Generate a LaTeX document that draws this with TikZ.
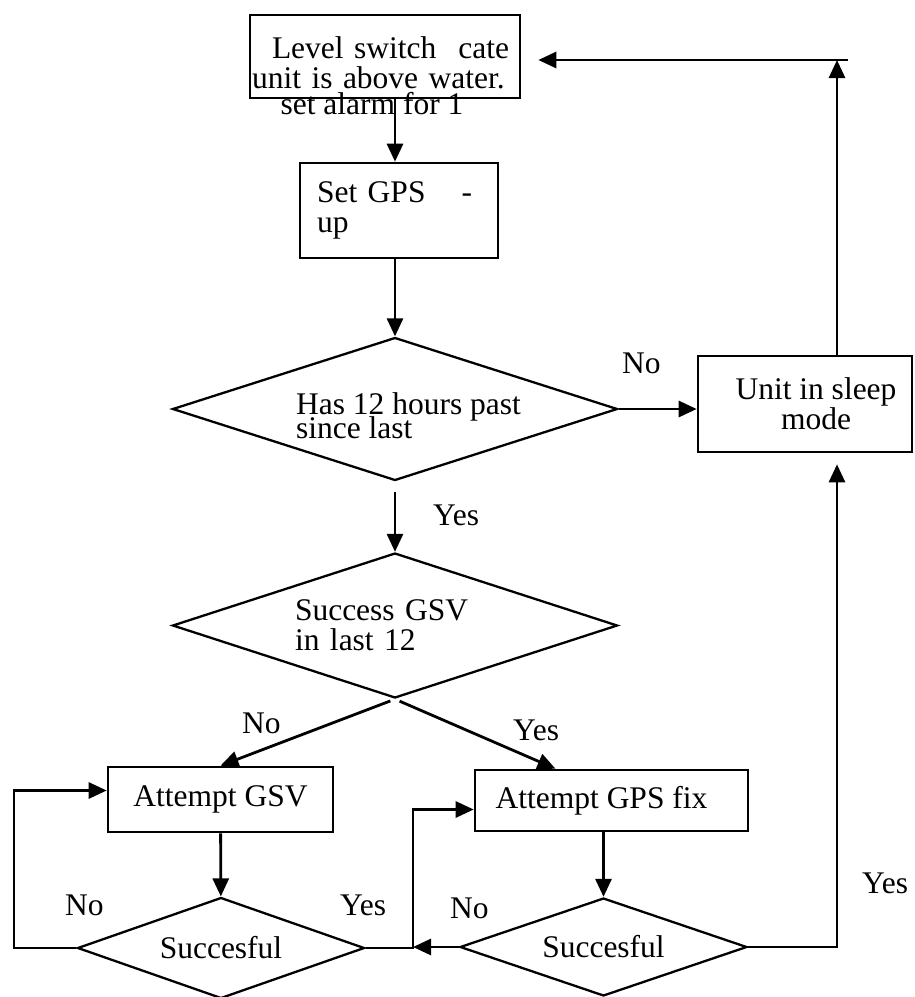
\documentclass[tikz,border=0pt]{standalone}
\usepackage{fontspec}
\setmainfont{Liberation Serif}
\usetikzlibrary{arrows.meta,shapes.geometric}
\tikzset{
  procbox/.style={draw, line width=2.6pt, inner sep=0pt, align=center},
  decision/.style={draw, diamond, shape aspect=3.1, line width=2.3pt, inner sep=0pt, align=left},
  lbl/.style={inner sep=0pt, anchor=base west},
  flow/.style={-{Triangle[length=18pt, width=16pt]}, line width=2.8pt}
}

\begin{document}
\begin{tikzpicture}[x=1pt, y=-1pt, font=\fontsize{31.5pt}{30pt}\selectfont]
\useasboundingbox (0,0) rectangle (915,997);
% main column
\node[procbox, minimum width=270pt, minimum height=83pt, text width=266pt, align=left] (level) at (385,56.5)
  {\rule{0pt}{35pt}\hspace*{20pt}Level switch\hspace{22pt}cate\\unit is above water.};
\node[lbl, anchor=base] (alarm) at (372,114) {set alarm for 1};
\node[procbox, minimum width=198pt, minimum height=95pt, text width=164pt, align=left] (setgps) at (399,210.5) {Set GPS\hspace{36pt}-\\up};
\node[decision, minimum width=445pt, minimum height=143pt] (past) at (395,409)
  {\rule{0pt}{36pt}\hspace*{27pt}Has 12 hours past\\[-6pt]\hspace*{27pt}since last};
\node[decision, minimum width=445pt, minimum height=145pt, text width=200pt] (gsvok) at (395,625.5) {Success GSV\\in last 12};
\node[procbox, minimum width=214pt, minimum height=96pt] (sleep) at (805,404) {\hspace*{22pt}Unit in sleep\\\hspace*{22pt}mode};
% bottom row
\node[procbox, minimum width=225pt, minimum height=65pt] (trygsv) at (220.5,799.5) {Attempt GSV};
\node[procbox, minimum width=273pt, minimum height=61pt] (trygps) at (611.5,800.5) {Attempt GPS fix\hspace*{20pt}};
\node[decision, minimum width=287pt, minimum height=101pt] (gsvdone) at (221,948) {Succesful};
\node[decision, minimum width=287pt, minimum height=98pt] (gpsdone) at (603.5,947) {Succesful};
% labels
\node[lbl] (yes1) at (433,525) {Yes};
\node[lbl] (no1) at (622,373) {No};
\node[lbl] (no2) at (242,733) {No};
\node[lbl] (yes2) at (513,740) {Yes};
\node[lbl] (no3) at (65,915) {No};
\node[lbl] (yes3) at (340,915) {Yes};
\node[lbl] (no4) at (450,918) {No};
\node[lbl] (yes4) at (862,893) {Yes};
% bends
\coordinate (turn) at (837,60);
\coordinate (loopx) at (14,942);
\coordinate (join) at (413,945);
% connectors
\draw[flow] (level.south -| past.north) -- (setgps.north -| past.north);
\draw[flow] (setgps.south -| past.north) -- (past.north);
\draw[flow, shorten <=10pt] (past.south) -- (gsvok.north);
\draw[flow] (past.east) -- (past.east -| sleep.west);
\draw[flow] (turn |- sleep.north) -- (turn);
\draw[flow, shorten >=17pt] ([xshift=11pt]turn) -- (turn -| level.east);
\draw[flow, shorten <=5pt] (gsvok.south) -- (trygsv.north);
\draw[flow, shorten <=5pt] (gsvok.south) -- ([xshift=-56pt]trygps.north);
\draw[flow] (trygsv) -- (gsvdone);
\draw[flow] (trygps.south -| gpsdone.north) -- (gpsdone.north);
\draw[flow] (gsvdone.west) -- (gsvdone.west -| loopx) |- ([yshift=9pt]trygsv.west);
\draw[flow] (gsvdone.east) -- (gsvdone.east -| join) |- ([yshift=-9pt]trygps.west);
\draw[flow] (gpsdone.west) -- (gpsdone.west -| join);
\draw[flow, shorten >=11pt] (gpsdone.east) -- (gpsdone.east -| turn) -- (turn |- sleep.south);
\end{tikzpicture}
\end{document}
